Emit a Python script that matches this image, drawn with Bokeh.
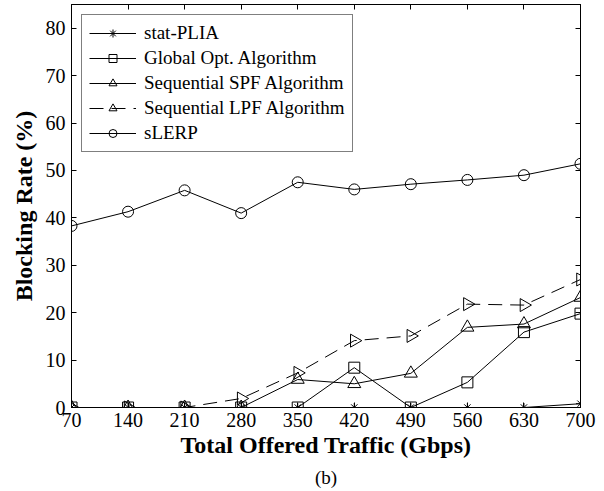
import math
from bokeh.plotting import figure
from bokeh.models import (Range1d, LinearAxis, FixedTicker, Legend, LegendItem, Title,
                          CustomJSTickFormatter)
from bokeh.embed import file_html
from bokeh.resources import INLINE

traffic = [70, 140, 210, 280, 350, 420, 490, 560, 630, 700]
stat_plia = [0, 0, 0, 0, 0, 0, 0, 0, 0, 0.8]
global_opt = [0, 0, 0, 0, 0, 8.4, 0, 5.3, 15.9, 19.8]
seq_spf = [0, 0, 0, 0, 5.9, 5.0, 7.2, 16.9, 17.6, 23.2]
seq_lpf = [0, 0, 0, 1.9, 7.3, 14.1, 15.1, 21.8, 21.6, 27.0]
slerp = [38.3, 41.3, 45.8, 41.0, 47.5, 46.0, 47.1, 48.0, 49.0, 51.4]
y_ticks = [0, 10, 20, 30, 40, 50, 60, 70, 80]

FONT = "'Times New Roman', 'Liberation Serif', Times, serif"

p = figure(width=596, height=491, output_backend="svg", toolbar_location=None,
           x_range=Range1d(70, 700), y_range=Range1d(0, 85),
           min_border_left=71, min_border_right=16, min_border_top=4, min_border_bottom=84)
p.background_fill_color = "white"
p.border_fill_color = "white"
p.outline_line_color = "black"
p.outline_line_width = 1
p.grid.visible = False

for ax in (p.xaxis[0], p.yaxis[0]):
    ax.major_tick_in = 5
    ax.major_tick_out = 0
    ax.minor_tick_in = 0
    ax.minor_tick_out = 0
    ax.major_label_text_font = FONT
    ax.major_label_text_font_size = "20px"
    ax.major_label_text_color = "black"
    ax.axis_line_color = "black"
    ax.major_tick_line_color = "black"
    ax.axis_label_text_font = FONT
    ax.axis_label_text_font_style = "bold"
    ax.axis_label_text_font_size = "24px"
    ax.axis_label_text_color = "black"

p.xaxis.ticker = FixedTicker(ticks=traffic)
p.yaxis.ticker = FixedTicker(ticks=y_ticks)
p.xaxis.axis_label = "Total Offered Traffic (Gbps)"
p.yaxis.axis_label = "Blocking Rate (%)"
p.xaxis.major_label_standoff = 5
p.yaxis.major_label_standoff = 6
p.xaxis.axis_label_standoff = 2
p.yaxis.axis_label_standoff = 6

blank = CustomJSTickFormatter(code="return ''")
top = LinearAxis(ticker=FixedTicker(ticks=traffic), major_tick_in=5, major_tick_out=0,
                 minor_tick_in=0, minor_tick_out=0, formatter=blank,
                 major_label_standoff=0)
right = LinearAxis(ticker=FixedTicker(ticks=y_ticks), major_tick_in=5, major_tick_out=0,
                   minor_tick_in=0, minor_tick_out=0, formatter=blank,
                   major_label_standoff=0)
p.add_layout(top, "above")
p.add_layout(right, "right")

p.add_layout(Title(text="(b)", align="center", text_font=FONT, text_font_size="19px",
                   text_font_style="normal", text_color="black", standoff=8), "below")

items = []
def series(name, ys, marker, dash="solid", angle=0.0, size=11):
    r1 = p.line(traffic, ys, line_color="black", line_width=1, line_dash=dash)
    r2 = p.scatter(traffic, ys, marker=marker, size=size, fill_color=None,
                   line_color="black", line_width=1, angle=angle)
    items.append(LegendItem(label=name, renderers=[r1, r2]))

series("stat-PLIA", stat_plia, "asterisk", size=9)
series("Global Opt. Algorithm", global_opt, "square", size=11)
series("Sequential SPF Algorithm", seq_spf, "triangle", size=13)
series("Sequential LPF Algorithm", seq_lpf, "triangle", dash="14 8", angle=-math.pi / 2, size=13)
series("sLERP", slerp, "circle", size=11)

legend = Legend(items=items, location="top_left")
legend.label_text_font = FONT
legend.label_text_font_size = "19px"
legend.label_text_color = "black"
legend.border_line_color = "black"
legend.border_line_width = 1
legend.background_fill_alpha = 1
legend.glyph_width = 47
legend.glyph_height = 20
legend.label_height = 20
legend.spacing = 3
legend.padding = 7
legend.margin = 10
legend.label_standoff = 8
p.add_layout(legend)

open("out.html", "w").write(file_html(p, INLINE))
